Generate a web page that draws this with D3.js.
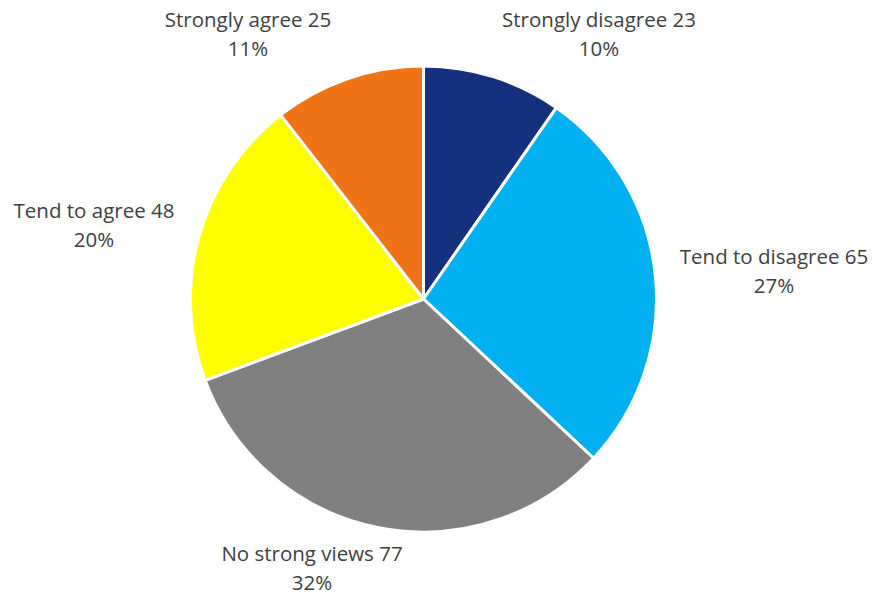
<!DOCTYPE html>
<html>
<head>
<meta charset="utf-8">
<script src="https://cdn.jsdelivr.net/npm/d3@7"></script>
<style>
  html, body { margin: 0; padding: 0; background: #fff; }
  svg { display: block; }
</style>
</head>
<body>
<svg id="chart" width="874" height="599"></svg>
<script>
// Survey responses, clockwise from 12 o'clock
const categories = ["Strongly disagree", "Tend to disagree", "No strong views", "Tend to agree", "Strongly agree"];
const counts = [23, 65, 77, 48, 25];
const colors = ["#15317E", "#00B0F0", "#808080", "#FFFF00", "#F07316"];

// Label anchor points (centre of the two-line label block)
const labelPos = [[599, 34], [774, 271], [312, 568], [94, 225], [248, 34]];

const svg = d3.select("#chart");
const cx = 423.5, cy = 299, r = 233;
const total = d3.sum(counts);

const pie = d3.pie().sort(null).value(d => d.value);
const arc = d3.arc().innerRadius(0).outerRadius(r);

const data = categories.map((c, i) => ({ name: c, value: counts[i], color: colors[i], pos: labelPos[i] }));

const g = svg.append("g").attr("transform", `translate(${cx},${cy})`);
g.selectAll("path")
  .data(pie(data))
  .join("path")
  .attr("d", arc)
  .attr("fill", d => d.data.color)
  .attr("stroke", "#fff")
  .attr("stroke-width", 3)
  .attr("stroke-linejoin", "round");

const fmt = d3.format(".0%");
const labels = svg.append("g")
  .attr("font-family", "'Open Sans', 'Noto Sans', sans-serif")
  .attr("font-size", 20.5)
  .attr("fill", "#404040")
  .attr("text-anchor", "middle");

labels.selectAll("text")
  .data(data)
  .join("text")
  .attr("transform", d => `translate(${d.pos[0]},${d.pos[1]})`)
  .each(function(d) {
    const t = d3.select(this);
    t.append("tspan").attr("x", 0).attr("y", -14).attr("dy", "0.35em").text(`${d.name} ${d.value}`);
    t.append("tspan").attr("x", 0).attr("y", 15).attr("dy", "0.35em").text(fmt(d.value / total));
  });
</script>
</body>
</html>
